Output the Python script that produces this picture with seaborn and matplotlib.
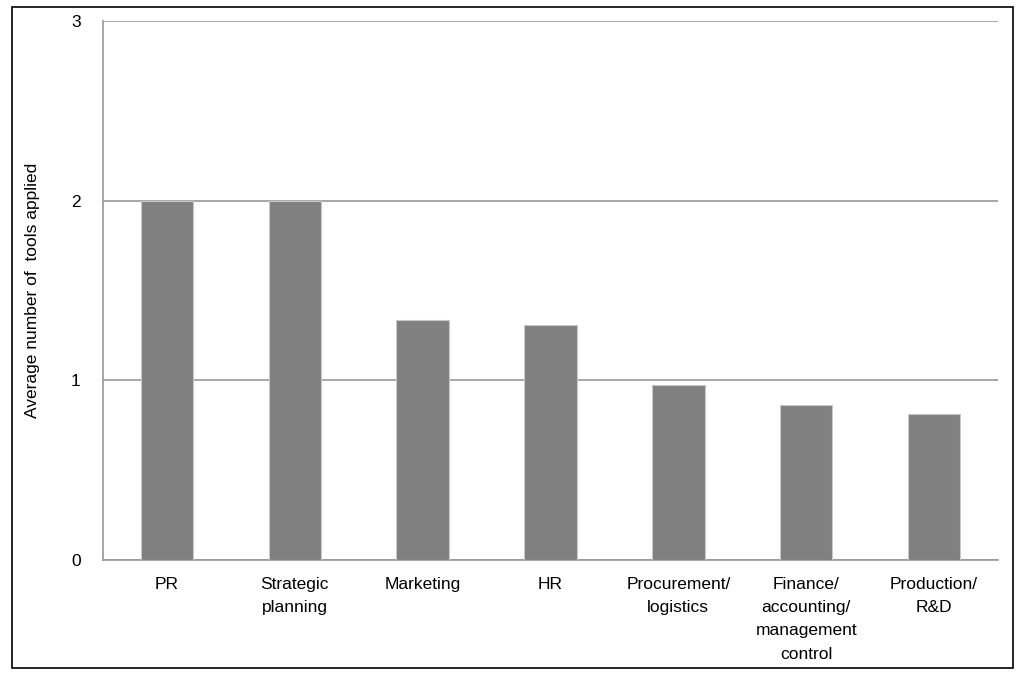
import matplotlib
matplotlib.use("Agg")
import matplotlib.pyplot as plt
import seaborn as sns
import pandas as pd

categories = ["PR", "Strategic\nplanning", "Marketing", "HR", "Procurement/\nlogistics",
              "Finance/\naccounting/\nmanagement\ncontrol", "Production/\nR&D"]
values = [2.0, 2.0, 1.335, 1.31, 0.972, 0.861, 0.814]
yticks = [0, 1, 2, 3]

sns.set_theme(style="white")
plt.rcParams['font.family'] = ['Liberation Sans', 'DejaVu Sans']
plt.rcParams['text.color'] = 'black'
plt.rcParams['xtick.color'] = 'black'
plt.rcParams['ytick.color'] = 'black'
plt.rcParams['axes.labelcolor'] = 'black'

df = pd.DataFrame({"cat": categories, "val": values})

fig = plt.figure(figsize=(10.24, 6.79), dpi=100)
ax = fig.add_axes([103/1024, 1 - 560/679, (998-103)/1024, (560-21)/679])

sns.barplot(data=df, x="cat", y="val", color="#808080", width=0.41,
            edgecolor="#c8c8c8", linewidth=0.8, saturation=1, ax=ax, zorder=3)

ax.set_ylim(0, 3)
ax.set_xlim(-0.5, len(categories) - 0.5)
ax.set_yticks(yticks)
ax.set_yticklabels([str(t) for t in yticks], fontsize=12.5)
ax.yaxis.grid(True, color="#999999", linewidth=1.2, zorder=0)
ax.set_axisbelow(True)
ax.tick_params(axis="x", labelsize=12.5, length=0, pad=12, labelcolor="black")
ax.tick_params(axis="y", length=0, pad=16, labelcolor="black")
for lbl in ax.get_xticklabels():
    lbl.set_verticalalignment("top")
    lbl.set_linespacing(1.7)
ax.set_xlabel("")
ax.set_ylabel("Average number of  tools applied", fontsize=12.5, labelpad=22,
              color="black")

for side in ["left", "bottom"]:
    ax.spines[side].set_color("#999999")
    ax.spines[side].set_linewidth(1.2)
ax.spines["top"].set_visible(False)
ax.spines["right"].set_visible(False)

border = plt.Rectangle((12/1024, 1 - 668/679), (1013-12)/1024, (668-7)/679,
                       transform=fig.transFigure, fill=False, edgecolor="black",
                       linewidth=1.2)
fig.patches.append(border)

fig.savefig("out.png", dpi=100)
